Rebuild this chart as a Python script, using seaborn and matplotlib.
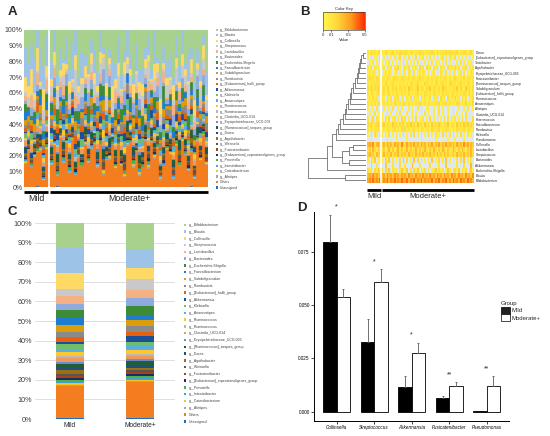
import numpy as np
import pandas as pd
import matplotlib
matplotlib.use("Agg")
import matplotlib.pyplot as plt
import seaborn as sns
from matplotlib.patches import Patch
from matplotlib.colors import LinearSegmentedColormap, Normalize
from matplotlib.cm import ScalarMappable
from matplotlib.ticker import FormatStrFormatter

# ----------------------------------------------------------
# DATA
# ----------------------------------------------------------
# genera in legend order (top of legend = top of stack)
taxa = ["g__Bifidobacterium", "g__Blautia", "g__Collinsella", "g__Streptococcus",
        "g__Lactobacillus", "g__Bacteroides", "g__Escherichia-Shigella",
        "g__Faecalibacterium", "g__Subdoligranulum", "g__Romboutsia",
        "g__[Eubacterium]_hallii_group", "g__Akkermansia", "g__Klebsiella",
        "g__Anaerostipes", "g__Ruminococcus", "g__Ruminococcus",
        "g__Clostridia_UCG-014", "g__Erysipelotrichaceae_UCG-003",
        "g__[Ruminococcus]_torques_group", "g__Dorea", "g__Agathobacter",
        "g__Weissella", "g__Fusicatenibacter",
        "g__[Eubacterium]_coprostanoligenes_group", "g__Prevotella",
        "g__Intestinibacter", "g__Catenibacterium", "g__Alistipes",
        "Others", "Unassigned"]

taxa_colors = ["#a9d18e", "#9dc3e6", "#ffd966", "#c9c9c9", "#f4b183", "#8faadc",
               "#3d8b37", "#1f7dd0", "#dc9d0c", "#8a8a8a", "#e8600c", "#1c4f99",
               "#6fbf6a", "#5aaee6", "#fcc82e", "#b7b7b7", "#f1975a", "#698ed0",
               "#215e36", "#1e4f82", "#9b6f12", "#555555", "#a3441a", "#1b2f5c",
               "#4fae4a", "#3fa3e0", "#f6c21c", "#a5a5a5", "#f47d20", "#1f6fc0"]

# panel C: mean relative abundance (%) per group, legend order
mean_mild = [12.2, 13.3, 8.2, 3.4, 4.1, 3.0, 3.8, 4.0, 3.8, 2.4, 2.7, 1.0, 2.7, 1.0, 2.1,
             1.0, 2.4, 1.0, 1.4, 1.7, 1.7, 1.0, 1.0, 1.0, 1.1, 0.6, 1.1, 0.6, 16.4, 0.3]
mean_mod = [13.3, 9.7, 5.6, 5.8, 3.7, 4.4, 4.4, 2.8, 2.7, 3.0, 2.4, 2.7, 2.1, 2.0, 2.1,
            1.0, 1.7, 1.0, 2.4, 1.0, 1.4, 1.0, 1.0, 1.0, 1.1, 0.6, 0.7, 0.7, 18.4, 0.3]

# panel A: per-sample abundance level (digit, ~3 = group mean), 8 Mild + 52 Moderate+
a_levels_mild = ["36250471", "54362745", "43524163", "25141362", "31524036", "20413052",
                 "42130524", "53142635", "34251643", "23142531", "42315243", "10320140",
                 "31402513", "24135241", "35214352", "21304231", "42513624", "23142032",
                 "34251342", "52413625", "43152634", "21305142", "34215243", "32041523",
                 "20314025", "31420531", "42031524", "30241502", "35243615", "31213021"]
a_levels_mod = [
    "4063518209357 1460283651930 4725831604927 3815064293718",
    "3425163742531 2635142736425 3162534271635 4253617243526",
    "2413526143251 3524162735142 2513642153724 1642531462352",
    "3162415273416 2514362517243 4152637142516 3261547132645",
    "2503614253041 3615024361520 4130526314052 2614035241630",
    "1405263014527 3041625031460 2504136025413 0632514036251",
    "3150462135047 2416305142630 5132604251360 3241506324150",
    "2413625314263 1524362415326 3142536241352 2613452316243",
    "3524136251432 4153625143261 2635141526354 3142563241536",
    "3215364132541 2436152341625 1352463152436 4251362413526",
    "2536142351462 3152463125341 4263152436215 1425364215342",
    "3051402630514 0426031504263 2053140625031 4062510340625",
    "2403152043621 3150426130524 1043625104352 3204153620413",
    "3142516324153 2531463152436 1423654132524 3512463215342",
    "2413625413256 3142536124352 4251362431526 1352463152413",
    "3120453142036 2403615230415 1352041630524 4031526140325",
    "2350416203514 3062514032605 1403625041362 2514036250413",
    "3241506324153 2150436215042 3405162340516 1352604135240",
    "4253614235162 3142536241536 2415362513426 3526143526314",
    "2314253614235 3152436125364 2431526341253 1425364213526",
    "3251463215243 2415362143526 3142635241536 2536142531426",
    "3041526304152 2503614025361 1420536142053 3615024360514",
    "2531426315243 3142536241352 2415362314526 3526143251436",
    "1430526140352 2516034251603 4120536241053 3052416302541",
    "3150426013524 0426130524063 2503614205316 1064250314260",
    "2403516240315 3152064130524 1405326041352 2630415260314",
    "3506241305162 1430625140352 2615034261503 4052613042516",
    "2041536024153 3150426301524 0425136042613 2613045216304",
    "2416352514263 3625143625314 5241362534126 3152642315463",
    "2130213120312 1203213021320 3120213120213 0213120312031"]

# panel B: heatmap rows (top to bottom), digit d -> value d*0.05, 0 = not detected
heat_rows = ["Dorea", "[Eubacterium]_coprostanoligenes_group", "Turicibacter",
             "Agathobacter", "Erysipelotrichaceae_UCG-003", "Fusicatenibacter",
             "[Ruminococcus]_torques_group", "Subdoligranulum",
             "[Eubacterium]_hallii_group", "Ruminococcus", "Anaerostipes", "Alistipes",
             "Clostridia_UCG-014", "Enterococcus", "Faecalibacterium", "Romboutsia",
             "Klebsiella", "Pseudomonas", "Collinsella", "Lactobacillus",
             "Streptococcus", "Bacteroides", "Akkermansia", "Escherichia-Shigella",
             "Blautia", "Bifidobacterium"]
heat_mild = ["21322132", "10201102", "01020101", "21302120", "12021012", "23121321",
             "21312213", "32413241", "21321231", "12031201", "21312132", "10010200",
             "01002010", "20130210", "32412341", "21312231", "10203102", "00100000",
             "56473564", "34253142", "45342534", "20314021", "00300200", "31203142",
             "56475645", "67586758"]
heat_mod = [
    "2132123121321 3212312132212 1232131221323 2123121321231",
    "0102010201301 1020103010201 0201020130102 1030102010201",
    "1010201010102 0101010201010 1020101010201 0101020101010",
    "1203120213102 2130212031203 1202130212031 2031202130212",
    "0120210120102 1021020120210 2012010210201 0210120201021",
    "1213212312132 2121321231212 3121231213212 1232121312312",
    "2132123121213 1213212312132 2121321231213 3121231213212",
    "2314213241321 3142312413213 2413213142312 1324132142313",
    "3212312132121 2131212312132 1213212131221 2312121321312",
    "2103120213012 0213021203121 1302120312031 2031203120213",
    "1213121321213 2121312132121 3121213121312 1213212131213",
    "0100102001010 0010100201001 1001002010010 0100100102001",
    "1002010010200 0100201001020 1001002010010 0201001020100",
    "1020301201030 2010203010201 0301020103020 1020103020103",
    "2413214231324 1324231423142 3142314213241 2314231424132",
    "1213212312132 3121231213212 2132123121321 1213213212312",
    "2010301020103 0102030102010 3010201030102 0201030102010",
    "0001000010000 0100000001000 0000100000010 0010000100000",
    "4536453645374 3645364536453 5463546354645 4536453746354",
    "2413524135241 3524135241352 1425314253142 2531425314253",
    "3524352435243 4253425342534 2534253425342 3425342534253",
    "1030402010304 0301040302010 2040103020401 0102030401020",
    "0040002000300 2000500020000 0300002000400 0002000300050",
    "2031402130241 1402031402130 3012403120142 0231402130241",
    "5647564756465 6475647564756 4756475647564 7564756475647",
    "5768576857686 6857685768576 7685768576857 5867586758675"]

# dendrogram merges (a, b, height); new cluster ids start at 26
links = [(0, 1, 0.05), (26, 2, 0.08), (27, 3, 0.10), (28, 4, 0.12), (29, 5, 0.14),
         (30, 6, 0.16), (31, 7, 0.19), (32, 8, 0.22), (33, 9, 0.25), (34, 10, 0.28),
         (35, 11, 0.31), (36, 12, 0.34), (37, 13, 0.37), (38, 14, 0.40),
         (39, 15, 0.44), (40, 16, 0.48), (41, 17, 0.52), (18, 19, 0.22),
         (43, 20, 0.30), (21, 22, 0.30), (44, 45, 0.42), (42, 46, 0.58),
         (47, 23, 0.67), (24, 25, 0.36), (48, 49, 1.00)]

# panel D
d_genera = ["Collinsella", "Streptococcus", "Akkermansia", "Fusicatenibacter", "Pseudomonas"]
d_mild = [0.0794, 0.0328, 0.0114, 0.0064, 0.0003]
d_mod = [0.0536, 0.0608, 0.0273, 0.0122, 0.0122]
d_mild_err = [0.0130, 0.0105, 0.0055, 0.0011, 0.0]
d_mod_err = [0.0040, 0.0060, 0.0050, 0.0016, 0.0045]
d_sig = ["*", "*", "*", "**", "**"]


def digits(s):
    return np.array([int(c) for c in s.replace(" ", "")], dtype=float)


W, H = 550, 436


def box(x0, y0, x1, y1):
    return [x0 / W, 1 - y1 / H, (x1 - x0) / W, (y1 - y0) / H]


sns.set_theme(style="white")
plt.rcParams["font.family"] = ["Liberation Sans", "DejaVu Sans"]

fig = plt.figure(figsize=(5.5, 4.36), dpi=100)

# ----------------------------------------------------------
# A - per sample stacked composition
# ----------------------------------------------------------
lv_mild = np.array([digits(s) for s in a_levels_mild])
lv_mod = np.array([digits(s) for s in a_levels_mod])
a_vals = np.hstack([lv_mild * np.array(mean_mild)[:, None],
                    lv_mod * np.array(mean_mod)[:, None]])
a_pct = a_vals / a_vals.sum(axis=0) * 100
n_mild, n_mod = lv_mild.shape[1], lv_mod.shape[1]
xs = np.concatenate([np.arange(n_mild), np.arange(n_mod) + n_mild + 0.6])

axA = fig.add_axes(box(24, 30, 208, 187))
bottom = np.zeros(a_pct.shape[1])
for g in reversed(range(len(taxa))):
    axA.bar(xs, a_pct[g], bottom=bottom, width=1.0, color=taxa_colors[g],
            edgecolor=taxa_colors[g], linewidth=0.2)
    bottom += a_pct[g]
axA.set_xlim(-0.5, xs[-1] + 0.5)
axA.set_ylim(0, 100)
axA.set_yticks(range(0, 101, 10))
axA.set_yticklabels([f"{v}%" for v in range(0, 101, 10)])
axA.set_xticks([])
for s in axA.spines.values():
    s.set_visible(False)
axA.tick_params(axis="y", length=0, labelsize=5, colors="#404040", pad=1)
tr = axA.get_xaxis_transform()
axA.plot([-0.5, n_mild - 0.6], [-0.03, -0.03], transform=tr, color="black", lw=2,
         clip_on=False, solid_capstyle="butt")
axA.plot([n_mild + 0.2, xs[-1] + 0.5], [-0.03, -0.03], transform=tr, color="black",
         lw=2, clip_on=False, solid_capstyle="butt")
axA.text((n_mild - 1) / 2, -0.075, "Mild", transform=tr, ha="center", va="center",
         fontsize=6.3)
axA.text((n_mild + 0.6 + xs[-1]) / 2, -0.075, "Moderate+", transform=tr, ha="center",
         va="center", fontsize=6.3)

handles = [Patch(facecolor=c, edgecolor="none") for c in taxa_colors]
fig.legend(handles, taxa, loc="upper left", bbox_to_anchor=(216 / W, 1 - 28 / H),
           fontsize=2.4, frameon=False, handlelength=0.7, handleheight=0.7,
           handletextpad=0.5, labelspacing=0.43, borderpad=0, borderaxespad=0,
           labelcolor="#404040")

# ----------------------------------------------------------
# B - heatmap with dendrogram
# ----------------------------------------------------------
heat = np.array([np.concatenate([digits(m), digits(o)]) for m, o in zip(heat_mild, heat_mod)])
heat = heat * 0.05
heat[heat == 0] = np.nan
heat_df = pd.DataFrame(heat, index=heat_rows)

cmap = LinearSegmentedColormap.from_list("key", ["#fff64a", "#ffd83a", "#ff9a20", "#ff2a00"])

axH = fig.add_axes(box(367, 50, 474, 183))
axH.set_facecolor("#dde9ee")
sns.heatmap(heat_df, ax=axH, cmap=cmap, vmin=0, vmax=0.5, cbar=False,
            xticklabels=False, yticklabels=True)
axH.yaxis.tick_right()
axH.set_yticklabels(heat_rows, rotation=0, fontsize=2.3)
axH.tick_params(axis="y", length=0, pad=1)
axH.axvline(n_mild, color="white", lw=1.2)
trH = axH.get_xaxis_transform()
axH.plot([0.1, n_mild - 0.2], [-0.05, -0.05], transform=trH, color="black", lw=2,
         clip_on=False, solid_capstyle="butt")
axH.plot([n_mild + 0.5, heat.shape[1]], [-0.05, -0.05], transform=trH, color="black",
         lw=2, clip_on=False, solid_capstyle="butt")
axH.text(n_mild / 2, -0.105, "Mild", transform=trH, ha="center", va="center", fontsize=5.5)
axH.text((n_mild + heat.shape[1]) / 2, -0.105, "Moderate+", transform=trH, ha="center",
         va="center", fontsize=5.5)

axT = fig.add_axes(box(305, 50, 366, 183))
pos = {i: i + 0.5 for i in range(len(heat_rows))}
hgt = {i: 0.0 for i in range(len(heat_rows))}
for k, (a, b, h) in enumerate(links):
    axT.plot([hgt[a], h, h, hgt[b]], [pos[a], pos[a], pos[b], pos[b]],
             color="#555555", lw=0.5)
    nid = len(heat_rows) + k
    pos[nid] = (pos[a] + pos[b]) / 2
    hgt[nid] = h
axT.set_xlim(1.05, 0)
axT.set_ylim(len(heat_rows), 0)
axT.axis("off")

axK = fig.add_axes(box(323, 12, 365, 30))
cb = fig.colorbar(ScalarMappable(norm=Normalize(0, 0.5), cmap=cmap), cax=axK,
                  orientation="horizontal", ticks=[0, 0.1, 0.3, 0.5])
cb.ax.set_xticklabels(["0", "0.1", "0.3", "0.5"])
cb.outline.set_linewidth(0.4)
axK.tick_params(labelsize=3, length=1.5, width=0.4, pad=0.8, bottom=True)
axK.set_xlabel("Value", fontsize=3, labelpad=0.5)
axK.set_title("Color Key", fontsize=3, pad=1.5)

# ----------------------------------------------------------
# C - group mean composition
# ----------------------------------------------------------
axC = fig.add_axes(box(35, 223, 175, 419))
axC.set_axisbelow(True)
axC.yaxis.grid(True, color="#d9d9d9", lw=0.6)
bot = np.zeros(2)
for g in reversed(range(len(taxa))):
    vals = np.array([mean_mild[g], mean_mod[g]])
    axC.bar([0, 1], vals, bottom=bot, width=0.4, color=taxa_colors[g], linewidth=0)
    bot += vals
axC.set_xlim(-0.5, 1.5)
axC.set_ylim(0, 100)
axC.set_yticks(range(0, 101, 10))
axC.set_yticklabels([f"{v}%" for v in range(0, 101, 10)])
axC.set_xticks([0, 1])
axC.set_xticklabels(["Mild", "Moderate+"])
for s in axC.spines.values():
    s.set_visible(False)
axC.tick_params(axis="y", length=0, labelsize=5.2, colors="#404040", pad=2)
axC.tick_params(axis="x", length=0, labelsize=4.8, pad=2)

fig.legend(handles, taxa, loc="upper left", bbox_to_anchor=(184 / W, 1 - 223 / H),
           fontsize=2.5, frameon=False, handlelength=0.7, handleheight=0.7,
           handletextpad=0.6, labelspacing=0.8, borderpad=0, borderaxespad=0,
           labelcolor="#404040")

# ----------------------------------------------------------
# D - selected genera, mean +/- error
# ----------------------------------------------------------
d_df = pd.DataFrame({
    "genus": d_genera * 2,
    "group": ["Mild"] * len(d_genera) + ["Moderate+"] * len(d_genera),
    "mean": d_mild + d_mod,
})
axD = fig.add_axes(box(314, 212, 509, 421))
sns.barplot(data=d_df, x="genus", y="mean", hue="group", order=d_genera,
            hue_order=["Mild", "Moderate+"],
            palette={"Mild": "black", "Moderate+": "white"},
            edgecolor="black", linewidth=0.6, width=0.71, errorbar=None,
            legend=False, ax=axD)
for cont, errs in zip(axD.containers, [d_mild_err, d_mod_err]):
    for bar, e in zip(cont, errs):
        if e <= 0:
            continue
        xc = bar.get_x() + bar.get_width() / 2
        axD.errorbar(xc, bar.get_height(), yerr=[[0], [e]], color="#5a5a5a",
                     lw=0.6, capsize=1.0, capthick=0.6)
for j, s in enumerate(d_sig):
    top = max(d_mild[j] + d_mild_err[j], d_mod[j] + d_mod_err[j])
    axD.text(j, top + 0.0035, s, ha="center", va="center", fontsize=5, clip_on=False)
axD.set_xlim(-0.605, 4.595)
axD.set_ylim(-0.0044, 0.0936)
axD.set_yticks([0, 0.025, 0.05, 0.075])
axD.yaxis.set_major_formatter(FormatStrFormatter("%.3f"))
axD.set_xlabel("")
axD.set_ylabel("")
axD.set_xticks(range(len(d_genera)))
axD.set_xticklabels(d_genera, fontstyle="italic")
sns.despine(ax=axD)
for side in ["left", "bottom"]:
    axD.spines[side].set_color("black")
    axD.spines[side].set_linewidth(0.7)
axD.tick_params(labelsize=3.3, length=2, width=0.5, direction="out", pad=1,
                bottom=True, left=True, colors="black")

fig.legend([Patch(facecolor="#222222", edgecolor="black", lw=0.5),
            Patch(facecolor="white", edgecolor="black", lw=0.5)],
           ["Mild", "Moderate+"], title="Group", loc="upper left",
           bbox_to_anchor=(501 / W, 1 - 301 / H), fontsize=4.3, title_fontsize=4.3,
           frameon=False, handlelength=1.5, handleheight=1.35, handletextpad=0.3,
           labelspacing=0.15, borderpad=0, borderaxespad=0, alignment="left")

# panel letters
for letter, (px, py) in {"A": (12, 12), "B": (305, 12), "C": (12, 212), "D": (302, 208)}.items():
    fig.text(px / W, 1 - py / H, letter, fontsize=9.5, fontweight="bold",
             ha="center", va="center")

fig.savefig("out.png", dpi=100)
